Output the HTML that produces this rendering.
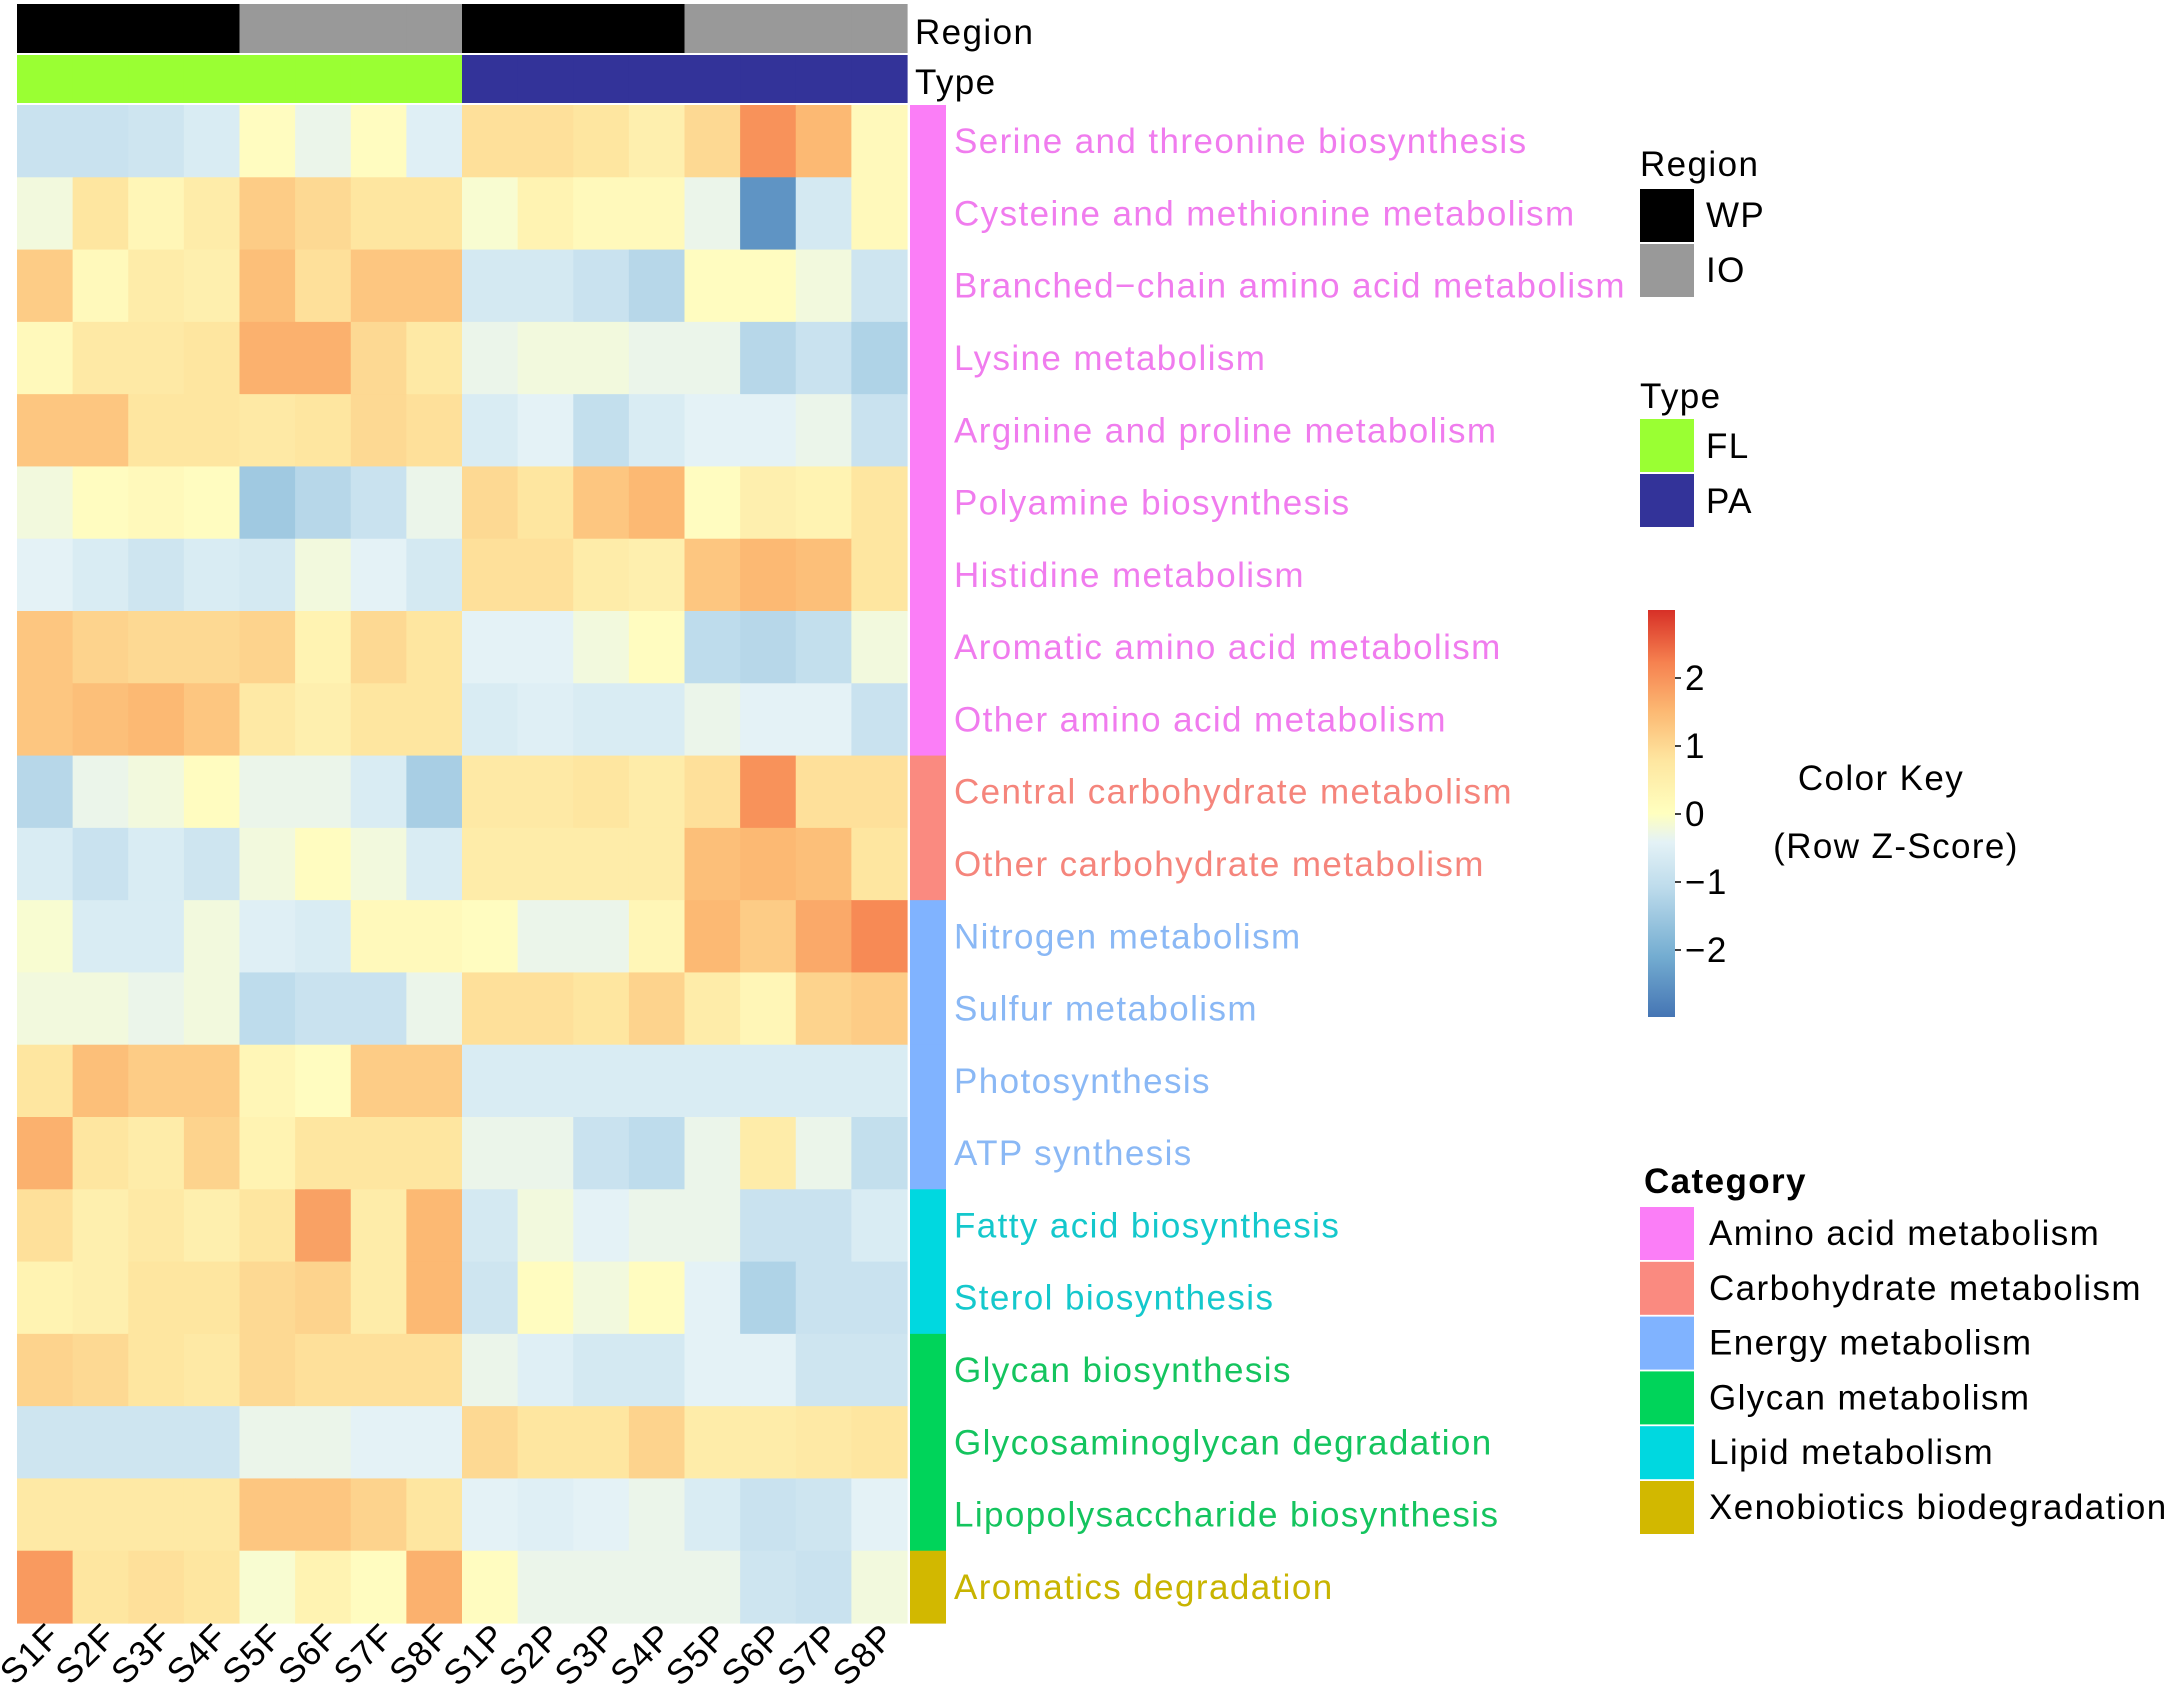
<!DOCTYPE html>
<html><head><meta charset="utf-8"><style>
html,body{margin:0;padding:0;background:#fff;}
svg{display:block;font-family:"Liberation Sans",Arial,sans-serif;}
text{letter-spacing:1.4px;}
</style></head><body>
<svg id="chart" width="2175" height="1704" viewBox="0 0 2175 1704" xmlns="http://www.w3.org/2000/svg">
<defs>
<linearGradient id="cbar" x1="0" y1="1" x2="0" y2="0">
<stop offset="0" stop-color="#4575b4"/><stop offset="0.15" stop-color="#74add1"/><stop offset="0.32" stop-color="#bedcec"/><stop offset="0.43" stop-color="#e4f2f6"/><stop offset="0.5" stop-color="#ffffbf"/><stop offset="0.63" stop-color="#fee6a0"/><stop offset="0.75" stop-color="#fcb973"/><stop offset="0.87" stop-color="#f68250"/><stop offset="1" stop-color="#d73027"/>
</linearGradient>
</defs>
<g id="annot"></g>
<g id="cells"></g>
<g id="catbar"></g>
<g id="rowlabels"></g>
<g id="collabels"></g>
<text x="915" y="44" font-size="35" fill="#000">Region</text>
<text x="915" y="94" font-size="35" fill="#000">Type</text>
<g>
<text x="1640" y="176" font-size="35">Region</text>
<rect x="1640" y="189" width="54" height="53" fill="#000"/>
<text x="1706" y="227" font-size="35">WP</text>
<rect x="1640" y="244" width="54" height="53" fill="#999"/>
<text x="1706" y="282" font-size="35">IO</text>
</g>
<g>
<text x="1640" y="408" font-size="35">Type</text>
<rect x="1640" y="419" width="54" height="53" fill="#9aff33"/>
<text x="1706" y="458" font-size="35">FL</text>
<rect x="1640" y="474" width="54" height="53" fill="#333399"/>
<text x="1706" y="513" font-size="35">PA</text>
</g>
<g>
<rect x="1648" y="610" width="27" height="407" fill="url(#cbar)"/>
<g id="cbticks"></g>
<text x="1881" y="790" font-size="35" text-anchor="middle">Color Key</text>
<text x="1896" y="858" font-size="35" text-anchor="middle">(Row Z-Score)</text>
</g>
<g id="catlegend">
<text x="1644" y="1193" font-size="35" font-weight="bold">Category</text>
</g>
</svg>
<script>
const columns=["S1F","S2F","S3F","S4F","S5F","S6F","S7F","S8F","S1P","S2P","S3P","S4P","S5P","S6P","S7P","S8P"];
const regions=["WP","WP","WP","WP","IO","IO","IO","IO","WP","WP","WP","WP","IO","IO","IO","IO"];
const types=["FL","FL","FL","FL","FL","FL","FL","FL","PA","PA","PA","PA","PA","PA","PA","PA"];
const rows=["Serine and threonine biosynthesis","Cysteine and methionine metabolism","Branched\u2212chain amino acid metabolism","Lysine metabolism","Arginine and proline metabolism","Polyamine biosynthesis","Histidine metabolism","Aromatic amino acid metabolism","Other amino acid metabolism","Central carbohydrate metabolism","Other carbohydrate metabolism","Nitrogen metabolism","Sulfur metabolism","Photosynthesis","ATP synthesis","Fatty acid biosynthesis","Sterol biosynthesis","Glycan biosynthesis","Glycosaminoglycan degradation","Lipopolysaccharide biosynthesis","Aromatics degradation"];
const rowCategory=[0,0,0,0,0,0,0,0,0,1,1,2,2,2,2,4,4,3,3,3,5];
const categories=["Amino acid metabolism","Carbohydrate metabolism","Energy metabolism","Glycan metabolism","Lipid metabolism","Xenobiotics biodegradation"];
const zscores=[
[-0.9,-0.9,-0.8,-0.6,0.1,-0.3,0.1,-0.5,0.9,0.9,0.8,0.5,1.0,2.0,1.5,0.2],
[-0.2,0.8,0.3,0.6,1.2,1.0,0.8,0.8,-0.1,0.4,0.2,0.2,-0.3,-2.5,-0.7,0.2],
[1.2,0.2,0.6,0.5,1.4,0.9,1.3,1.3,-0.7,-0.7,-0.9,-1.2,0.1,0.1,-0.2,-0.8],
[0.2,0.7,0.7,0.8,1.6,1.6,1.0,0.7,-0.3,-0.2,-0.2,-0.3,-0.3,-1.2,-0.9,-1.3],
[1.3,1.3,0.8,0.8,0.7,0.8,1.0,0.9,-0.6,-0.4,-1.0,-0.6,-0.4,-0.4,-0.3,-0.9],
[-0.2,0.1,0.2,0.1,-1.5,-1.2,-0.9,-0.3,1.0,0.8,1.3,1.5,0.1,0.5,0.4,0.8],
[-0.4,-0.6,-0.8,-0.6,-0.7,-0.2,-0.4,-0.7,0.9,0.9,0.6,0.5,1.3,1.5,1.4,0.8],
[1.3,1.1,1.0,1.0,1.1,0.4,1.0,0.8,-0.4,-0.4,-0.2,0.1,-1.1,-1.2,-1.0,-0.2],
[1.3,1.4,1.5,1.3,0.7,0.5,0.8,0.8,-0.6,-0.5,-0.6,-0.6,-0.3,-0.4,-0.4,-0.9],
[-1.2,-0.3,-0.2,0.1,-0.3,-0.3,-0.6,-1.4,0.7,0.7,0.8,0.6,0.9,2.0,0.9,0.9],
[-0.6,-0.9,-0.6,-0.8,-0.2,0.1,-0.2,-0.6,0.6,0.6,0.6,0.6,1.4,1.5,1.4,0.8],
[-0.1,-0.6,-0.6,-0.2,-0.5,-0.6,0.2,0.2,0.1,-0.3,-0.3,0.3,1.5,1.2,1.7,2.1],
[-0.2,-0.2,-0.3,-0.2,-1.1,-0.9,-0.9,-0.3,0.9,0.9,0.8,1.1,0.6,0.3,1.1,1.2],
[0.8,1.4,1.2,1.2,0.3,0.1,1.2,1.2,-0.6,-0.6,-0.6,-0.6,-0.6,-0.6,-0.6,-0.6],
[1.6,0.8,0.6,1.1,0.4,0.8,0.8,0.8,-0.3,-0.3,-0.9,-1.1,-0.3,0.6,-0.3,-1.0],
[0.9,0.5,0.7,0.5,0.8,1.8,0.6,1.5,-0.7,-0.2,-0.4,-0.3,-0.3,-0.9,-0.9,-0.6],
[0.4,0.5,0.8,0.8,1.0,1.1,0.6,1.5,-0.8,0.1,-0.2,0.1,-0.4,-1.3,-0.9,-0.9],
[1.1,1.0,0.8,0.7,1.0,0.9,0.9,0.9,-0.3,-0.5,-0.7,-0.7,-0.4,-0.4,-0.8,-0.8],
[-0.8,-0.8,-0.8,-0.8,-0.3,-0.3,-0.4,-0.4,1.0,0.8,0.8,1.1,0.6,0.6,0.7,0.8],
[0.7,0.7,0.7,0.7,1.3,1.3,1.1,0.8,-0.4,-0.5,-0.4,-0.3,-0.6,-0.9,-0.8,-0.4],
[1.9,0.8,0.9,0.8,-0.1,0.4,0.1,1.6,0.1,-0.3,-0.3,-0.3,-0.3,-0.8,-0.9,-0.2]
];
const colorTicks=[2,1,0,-1,-2];
</script>
<script>
const NS="http://www.w3.org/2000/svg";
const X0=17,X1=907,Y0=105,Y1=1623;
const cw=(X1-X0)/columns.length, rh=(Y1-Y0)/rows.length;
const xPos=i=>X0+i*cw, yPos=j=>Y0+j*rh;
const regionColor={WP:"#000000",IO:"#999999"}, typeColor={FL:"#9aff33",PA:"#333399"};
const catColors=["#fb7ef7","#fa8a80","#80b3ff","#00d45a","#00d8e0","#d2b800"];
const labelColors=["#f07cee","#f5857c","#8ab8f5","#14c45e","#14c8cc","#c8b400"];
const stops=[[-3,[69,117,180]],[-2.1,[116,173,209]],[-1.1,[190,220,236]],[-0.4,[228,242,246]],[0,[255,255,196]],[0.8,[254,230,160]],[1.5,[252,185,115]],[2.2,[246,130,80]],[3,[215,48,39]]];
function zColor(z){z=Math.max(-3,Math.min(3,z));for(let k=0;k<stops.length-1;k++){const a=stops[k],b=stops[k+1];if(z<=b[0]){const t=(z-a[0])/(b[0]-a[0]);const c=a[1].map((v,i)=>Math.round(v+(b[1][i]-v)*t));return `rgb(${c})`;}}return "rgb(215,48,39)";}
function mk(tag,attrs,parent){const e=document.createElementNS(NS,tag);for(const k in attrs)e.setAttribute(k,attrs[k]);parent.appendChild(e);return e;}
const annot=document.getElementById('annot');
columns.forEach((c,i)=>{
 let r=mk('rect',{x:xPos(i),y:4,width:cw+0.6,height:49,fill:regionColor[regions[i]]},annot);
 
 
 let t=mk('rect',{x:xPos(i),y:55,width:cw+0.6,height:48,fill:typeColor[types[i]]},annot);
 
 
});
const cells=document.getElementById('cells');
zscores.forEach((row,j)=>row.forEach((z,i)=>{
 const r=mk('rect',{x:xPos(i),y:yPos(j),width:cw+0.6,height:rh+0.6,fill:zColor(z)},cells);
 
 
}));
const catbar=document.getElementById('catbar'), rl=document.getElementById('rowlabels');
rows.forEach((name,j)=>{
 const r=mk('rect',{x:910,y:yPos(j),width:36,height:rh+0.6,fill:catColors[rowCategory[j]]},catbar);
 
 
 const t=mk('text',{x:954,y:yPos(j)+rh/2+12,'font-size':35,fill:labelColors[rowCategory[j]]},rl);
 t.textContent=name;
 
 
});
const cl=document.getElementById('collabels');
columns.forEach((c,i)=>{
 const cx=xPos(i)+cw/2+18, cy=1638;
 const t=mk('text',{x:cx,y:cy,'font-size':35,'text-anchor':'end',transform:`rotate(-45 ${cx} ${cy})`},cl);
 t.textContent=c;
 
 
});
const cbt=document.getElementById('cbticks');
const cbY=v=>814-v*68;
colorTicks.forEach(v=>{
 const l=mk('line',{x1:1675,x2:1681,y1:cbY(v),y2:cbY(v),stroke:'#000','stroke-width':1.5},cbt);
 
 
 const t=mk('text',{x:1685,y:cbY(v)+12,'font-size':35},cbt);
 t.textContent=v<0?'\u2212'+Math.abs(v):String(v);
 
 
});
const cleg=document.getElementById('catlegend');
categories.forEach((c,k)=>{
 const y=1207+k*54.8;
 const r=mk('rect',{x:1640,y:y,width:54,height:53,fill:catColors[k]},cleg);
 
 
 const t=mk('text',{x:1709,y:y+38,'font-size':35},cleg);
 t.textContent=c;
 
 
});
</script>
</body></html>
